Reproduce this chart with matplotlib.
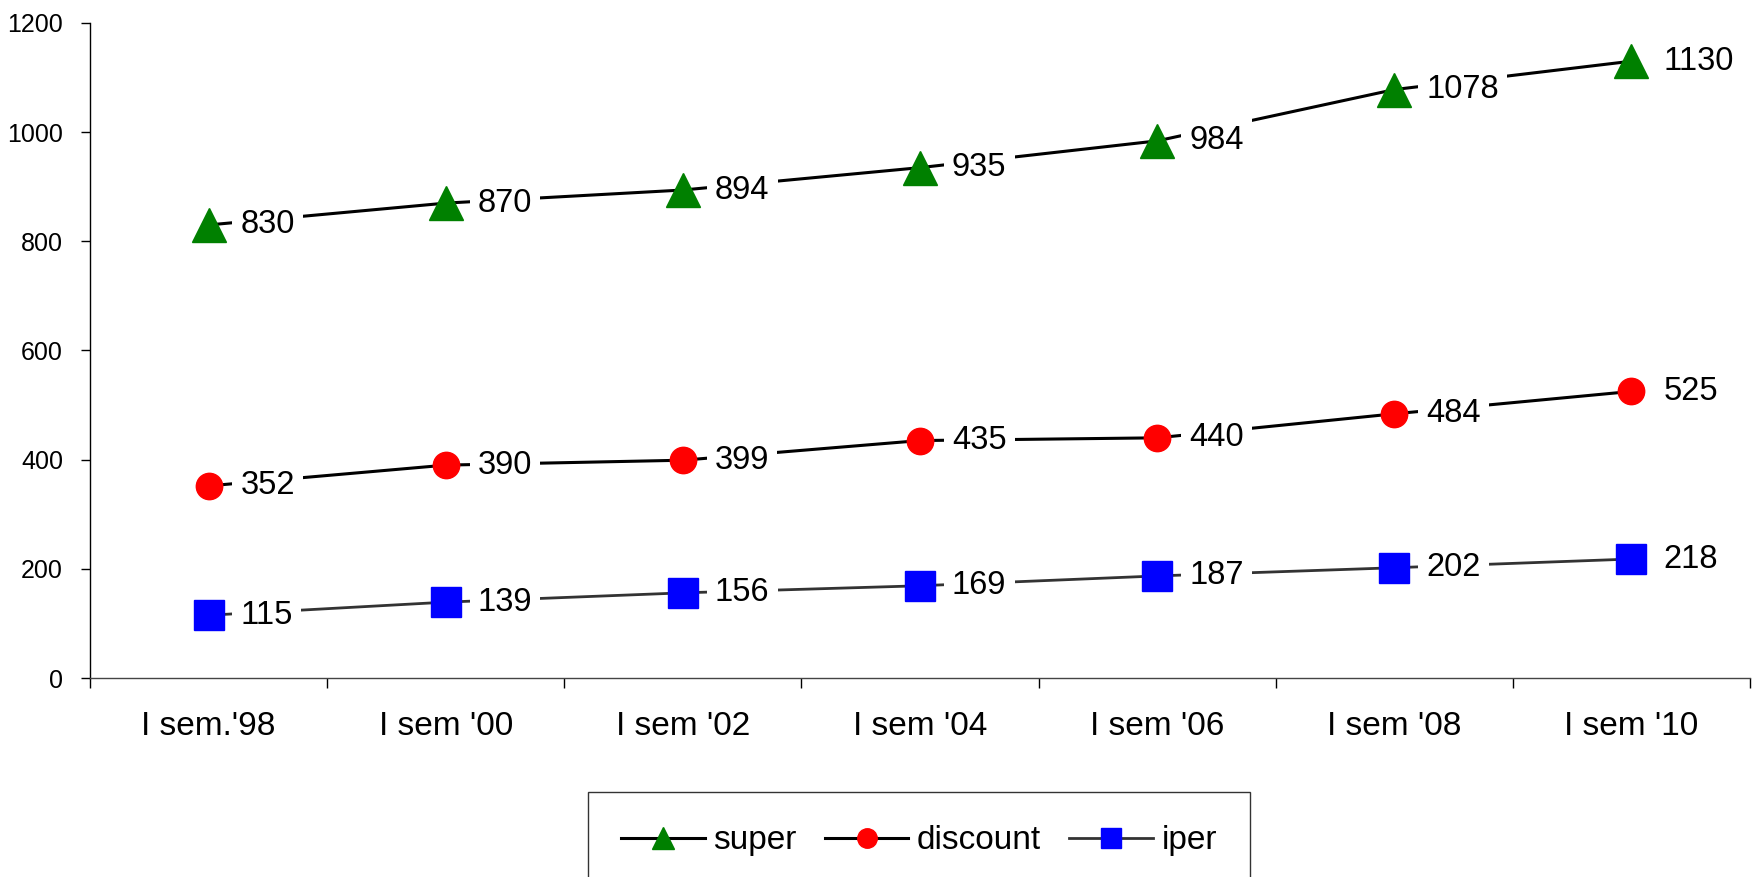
import matplotlib
matplotlib.use('Agg')
import matplotlib.pyplot as plt
import numpy as np

plt.rcParams['font.family'] = ['Liberation Sans', 'DejaVu Sans']

# data
categories = ["I sem.'98", "I sem '00", "I sem '02", "I sem '04", "I sem '06", "I sem '08", "I sem '10"]
super_vals = [830, 870, 894, 935, 984, 1078, 1130]
discount_vals = [352, 390, 399, 435, 440, 484, 525]
iper_vals = [115, 139, 156, 169, 187, 202, 218]
y_ticks = [0, 200, 400, 600, 800, 1000, 1200]

fig = plt.figure(figsize=(17.59, 8.77), dpi=100)
ax = fig.add_axes([0.0512, 0.2269, 0.9437, 0.7469])

x = np.arange(len(categories))

series = [
    ('super', super_vals, '^', '#008000', 24, 16, '#000000', 2.2),
    ('discount', discount_vals, 'o', '#ff0000', 19, 14, '#000000', 2.2),
    ('iper', iper_vals, 's', '#0000ff', 21, 14, '#333333', 2.0),
]

handles = []
for name, vals, mk, col, ms, leg_ms, lcol, lw in series:
    ax.plot(x, vals, color=lcol, lw=lw, zorder=2)
    ax.plot(x, vals, ls='none', marker=mk, ms=ms, color=col, mec=col, zorder=4)
    # labels to the right of each point, white box hides the line
    for xi, v in zip(x, vals):
        ax.annotate(str(v), (xi, v), xytext=(23, 0), textcoords='offset points',
                    ha='left', va='center', fontsize=23.5, zorder=3,
                    bbox=dict(boxstyle='square,pad=0.25', fc='white', ec='none'))
    h, = ax.plot([], [], color=lcol, lw=lw, marker=mk, ms=leg_ms, mfc=col, mec=col)
    handles.append((h, name))

ax.set_xlim(-0.5, len(categories) - 0.5)
ax.set_ylim(0, 1200)
ax.set_yticks(y_ticks)
ax.set_yticklabels([str(t) for t in y_ticks], fontsize=18)
ax.set_xticks(x)
ax.set_xticklabels(categories, fontsize=24)
ax.set_xticks(np.arange(len(categories) + 1) - 0.5, minor=True)
ax.tick_params(axis='x', which='major', length=0, pad=24)
ax.tick_params(axis='x', which='minor', length=7, width=1, direction='out')
ax.tick_params(axis='y', length=6.5, width=1, direction='out', pad=13)

for s in ['top', 'right']:
    ax.spines[s].set_visible(False)
ax.spines['left'].set_linewidth(1)
ax.spines['bottom'].set_linewidth(1)
ax.spines['bottom'].set_color('#444444')

# legend box runs off the bottom edge, as in the original
leg = fig.legend([h for h, _ in handles], [n for _, n in handles],
                 loc='upper center', bbox_to_anchor=(0.5225, 0.097), ncol=3,
                 fontsize=24, frameon=True, fancybox=False, edgecolor='black',
                 handlelength=2.5, handletextpad=0.26, columnspacing=0.85,
                 borderpad=1.0, borderaxespad=0)
leg.get_frame().set_linewidth(1)

fig.savefig('out.png', dpi=100, facecolor='white')
